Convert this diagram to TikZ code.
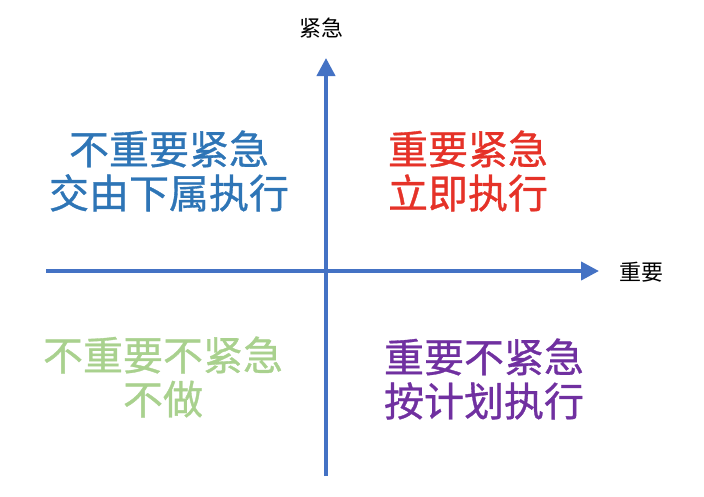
\documentclass[tikz,border=0pt]{standalone}
\usepackage{fontspec}
\newfontfamily\cjk{Noto Sans CJK SC}
\newfontfamily\cjkq[FakeBold=0.8]{Noto Sans CJK SC}
\usetikzlibrary{arrows.meta}
\definecolor{axisblue}{HTML}{4472C4}
\definecolor{qblue}{HTML}{2E75B6}
\definecolor{qred}{HTML}{E53228}
\definecolor{qgreen}{HTML}{A9D18E}
\definecolor{qpurple}{HTML}{7030A0}
\begin{document}
\begin{tikzpicture}[x=1pt,y=-1pt,
  axis/.style={draw=axisblue,line width=4pt,-{Triangle[width=18pt,length=18pt]}},
  quad/.style={font=\cjkq\fontsize{40}{44}\selectfont,align=center,inner sep=0pt},
  lbl/.style={font=\cjk\fontsize{22}{24}\selectfont,inner sep=0pt}]
\useasboundingbox (0,0) rectangle (704,496);
\coordinate (vs) at (326,476);
\coordinate (ve) at (326,58);
\coordinate (hs) at (46,271);
\coordinate (he) at (599,271);
\draw[axis] (vs) -- (ve);
\draw[axis] (hs) -- (he);
\node[lbl] (yl) at (321,28) {紧急};
\node[lbl] (xl) at (641,272) {重要};
\node[quad,text=qblue] (q2) at (169,171) {不重要紧急\\交由下属执行};
\node[quad,text=qred] (q1) at (468,171) {重要紧急\\立即执行};
\node[quad,text=qgreen] (q3) at (163,377) {不重要不紧急\\不做};
\node[quad,text=qpurple] (q4) at (484,379) {重要不紧急\\按计划执行};
\end{tikzpicture}
\end{document}
